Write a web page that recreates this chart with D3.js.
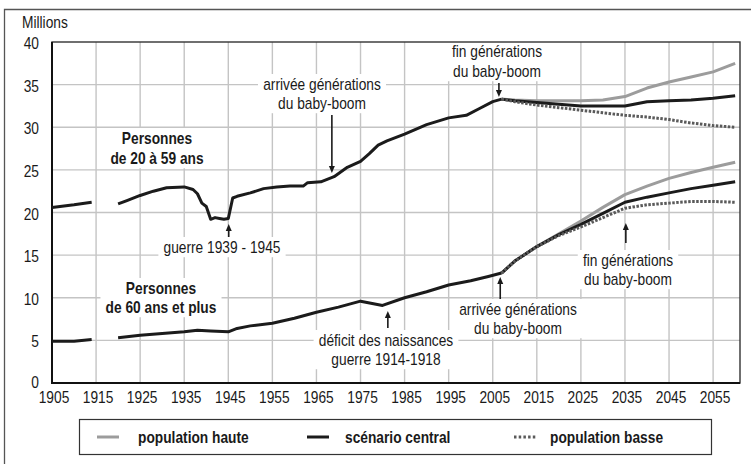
<!DOCTYPE html>
<html><head><meta charset="utf-8">
<script src="https://cdn.jsdelivr.net/npm/d3@7"></script>
<style>
body{margin:0;background:#fff;}
svg{display:block;font-family:'Liberation Sans', Arial, sans-serif;}
</style></head>
<body><svg id="c" width="751" height="464"></svg>
<script>
// ---- data ----
const youngYears = [1905,1910,1914,1917,1920,1922,1925,1928,1931,1935,1937,1938,1939,1940,1941,1942,1943,1944,1945,1946,1947,1950,1953,1956,1959,1962,1963,1966,1969,1972,1975,1977,1979,1981,1985,1990,1995,1999,2002,2005,2007];
const youngValues = [20.6,20.9,21.2,null,21.0,21.4,22.0,22.5,22.9,23.0,22.7,22.2,21.1,20.7,19.2,19.4,19.3,19.2,19.3,21.7,21.9,22.3,22.8,23.0,23.1,23.1,23.5,23.6,24.2,25.3,26.0,26.9,27.9,28.4,29.2,30.3,31.1,31.4,32.2,33.0,33.3];
const oldYears = [1905,1910,1914,1917,1920,1925,1930,1935,1938,1941,1945,1947,1950,1955,1960,1965,1970,1975,1980,1985,1990,1995,2000,2004,2007];
const oldValues = [4.9,4.9,5.1,null,5.3,5.6,5.8,6.0,6.2,6.1,6.0,6.4,6.7,7.0,7.6,8.3,8.9,9.6,9.1,10.0,10.7,11.5,12.0,12.5,12.9];
const projYears = [2007,2010,2015,2020,2025,2030,2035,2040,2045,2050,2055,2060];
const youngHigh    = [33.3,33.2,33.1,33.1,33.1,33.2,33.6,34.6,35.3,35.9,36.5,37.5];
const youngCentral = [33.3,33.1,32.9,32.7,32.5,32.5,32.5,33.0,33.1,33.2,33.4,33.7];
const youngLow     = [33.3,33.0,32.6,32.3,32.0,31.7,31.4,31.2,30.9,30.5,30.2,30.0];
const oldHigh    = [12.9,14.3,16.0,17.5,19.0,20.6,22.1,23.1,24.0,24.7,25.3,25.9];
const oldCentral = [12.9,14.3,16.0,17.4,18.6,19.9,21.2,21.8,22.3,22.8,23.2,23.6];
const oldLow     = [12.9,14.3,16.0,17.3,18.3,19.4,20.5,20.9,21.1,21.3,21.3,21.2];
const xTicks = [1905,1915,1925,1935,1945,1955,1965,1975,1985,1995,2005,2015,2025,2035,2045,2055];
const yTicks = [0,5,10,15,20,25,30,35,40];
const legendLabels = ["population haute","scénario central","population basse"];

// ---- styling ----
const FS = 16, SX = 0.86;   // condensed look: Liberation Sans squeezed horizontally
const HIGH = "#9c9c9c", CENT = "#1b1b1b", LOW = "#5a5a5a", TXT = "#1a1a1a";

const svg = d3.select("#c");
const L = 52, R = 740, T = 42, B = 383;
const x = d3.scaleLinear().domain([1905, 2061.1]).range([L, R]);
const y = d3.scaleLinear().domain([0, 40]).range([B, T]);

// condensed text helper
function ctext(parent, tx, ty, str, opts={}){
  const gg = parent.append("g").attr("transform", `translate(${tx},${ty}) scale(${SX},1)`);
  gg.append("text").attr("x",0).attr("y",0)
    .attr("text-anchor", opts.anchor || "start")
    .attr("font-size", opts.size || FS)
    .attr("font-weight", opts.bold ? "bold" : "normal")
    .attr("fill", TXT).text(str);
  return gg;
}

// outer frame
svg.append("path").attr("d", "M4.5,464 L4.5,9.5 L751,9.5").attr("fill","none").attr("stroke","#555").attr("stroke-width",1.3);

// grid
const g = svg.append("g");
g.selectAll(".vg").data(xTicks.slice(1)).join("line")
  .attr("x1", d=>x(d)).attr("x2", d=>x(d)).attr("y1", T).attr("y2", B)
  .attr("stroke","#c4c4c4").attr("stroke-width",1.4);
g.selectAll(".hg").data(yTicks.slice(1,-1)).join("line")
  .attr("x1", L).attr("x2", R).attr("y1", d=>y(d)).attr("y2", d=>y(d))
  .attr("stroke","#c4c4c4").attr("stroke-width",1.4);

// annotations (white background boxes hide the grid)
const annos = [
  {lines:["arrivée générations","du baby-boom"], cx:322, base:[90,109], bold:false},
  {lines:["fin générations","du baby-boom"], cx:497, base:[57,77], bold:false},
  {lines:["guerre 1939 - 1945"], cx:222, base:[253], bold:false},
  {lines:["Personnes","de 20 à 59 ans"], cx:157, base:[144,164], bold:true},
  {lines:["Personnes","de 60 ans et plus"], cx:161, base:[294,313], bold:true},
  {lines:["déficit des naissances","guerre 1914-1918"], cx:386, base:[346,365], bold:false},
  {lines:["arrivée générations","du baby-boom"], cx:518, base:[315,334], bold:false},
  {lines:["fin générations","du baby-boom"], cx:628, base:[266,285], bold:false}
];
const annoG = svg.append("g");
annos.forEach(a=>{
  const grp = annoG.append("g").attr("transform", `translate(${a.cx},0) scale(${SX},1)`);
  const texts = a.lines.map((s,i)=> grp.append("text")
     .attr("x", 0).attr("y", a.base[i])
     .attr("text-anchor","middle")
     .attr("font-size", FS)
     .attr("font-weight", a.bold ? "bold" : "normal")
     .attr("fill", TXT).text(s));
  let x0=1e9,x1=-1e9,y0=1e9,y1=-1e9;
  texts.forEach(t=>{const b=t.node().getBBox(); x0=Math.min(x0,b.x);x1=Math.max(x1,b.x+b.width);y0=Math.min(y0,b.y);y1=Math.max(y1,b.y+b.height);});
  grp.insert("rect","text").attr("x",x0-6).attr("y",y0-1).attr("width",x1-x0+12).attr("height",y1-y0+2).attr("fill","#fff");
});

// plot frame and axes
svg.append("rect").attr("x",L).attr("y",T).attr("width",R-L).attr("height",B-T)
  .attr("fill","none").attr("stroke","#333").attr("stroke-width",1.4);
svg.append("line").attr("x1",L).attr("x2",L).attr("y1",T).attr("y2",B).attr("stroke","#111").attr("stroke-width",2);
svg.append("line").attr("x1",L-1).attr("x2",R).attr("y1",B).attr("y2",B).attr("stroke","#111").attr("stroke-width",2);

// tick labels
const yl = svg.append("g");
yTicks.forEach(d=> ctext(yl, 39, y(d)+(d===0?5:7), d, {anchor:"end"}));
const xl = svg.append("g");
xTicks.forEach(d=> ctext(xl, x(d)+2, 403, d, {anchor:"middle"}));
ctext(svg, 22, 28, "Millions");

// lines
const line = d3.line().defined(d=>d[1]!==null).x(d=>x(d[0])).y(d=>y(d[1]));
const zip = (xs, vs)=> xs.map((v,i)=>[v, vs[i]]);
const lg = svg.append("g").attr("fill","none").attr("stroke-linejoin","round");
function draw(data, color, dash){
  const p = lg.append("path").attr("d", line(data)).attr("stroke", color).attr("stroke-width", 3);
  if(dash) p.attr("stroke-dasharray", dash);
}
draw(zip(projYears, youngHigh), HIGH);
draw(zip(projYears, oldHigh), HIGH);
draw(zip(youngYears, youngValues), CENT);
draw(zip(oldYears, oldValues), CENT);
draw(zip(projYears, youngCentral), CENT);
draw(zip(projYears, oldCentral), CENT);
draw(zip(projYears, youngLow), LOW, "2.5,1.5");
draw(zip(projYears, oldLow), LOW, "2.5,1.5");

// arrows
const arrows = [
  {x:1968.5, y1:115, y2:173},
  {x:2006.4, y1:83, y2:97},
  {x:1945.1, y1:237, y2:224},
  {x:1981.2, y1:328, y2:311},
  {x:2006.7, y1:299, y2:277},
  {x:2035.2, y1:243, y2:223}
];
const ag = svg.append("g");
arrows.forEach(a=>{
  const ax = x(a.x);
  const dir = a.y2 > a.y1 ? 1 : -1;
  ag.append("line").attr("x1",ax).attr("x2",ax).attr("y1",a.y1).attr("y2",a.y2 - dir*5)
    .attr("stroke",TXT).attr("stroke-width",1.6);
  ag.append("path").attr("d",`M${ax-3},${a.y2-dir*7} L${ax+3},${a.y2-dir*7} L${ax},${a.y2} Z`).attr("fill",TXT);
});

// legend
svg.append("rect").attr("x",79.5).attr("y",419.5).attr("width",632).attr("height",35)
  .attr("fill","#fff").attr("stroke","#333").attr("stroke-width",1.2);
const legItems = [
  {c:HIGH, dash:null, x0:97, tx:138},
  {c:CENT, dash:null, x0:307, tx:345},
  {c:LOW, dash:"2.5,2.2", x0:514, tx:550}
];
legItems.forEach((it,i)=>{
  const l = svg.append("line").attr("x1",it.x0).attr("x2",it.x0+22).attr("y1",437).attr("y2",437)
    .attr("stroke",it.c).attr("stroke-width",3);
  if(it.dash) l.attr("stroke-dasharray",it.dash);
  ctext(svg, it.tx, 443, legendLabels[i], {bold:true, size:16});
});
</script></body></html>
